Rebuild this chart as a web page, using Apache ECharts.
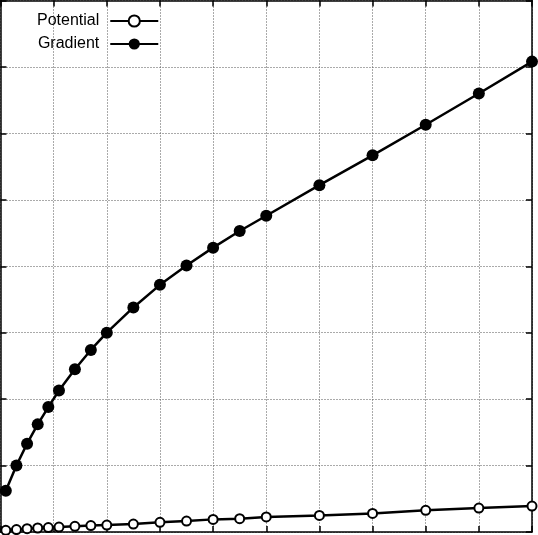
<!DOCTYPE html>
<html>
<head>
<meta charset="utf-8">
<script src="https://cdn.jsdelivr.net/npm/echarts@6/dist/echarts.min.js"></script>
<style>
    html, body { margin: 0; padding: 0; background: #fff; }
    #chart { width: 538px; height: 535px; }
</style>
</head>
<body>
<div id="chart"></div>
<script>
// 横坐标取值
var xValues = [0.1, 0.3, 0.5, 0.7, 0.9, 1.1, 1.4, 1.7, 2.0, 2.5, 3.0, 3.5, 4.0, 4.5, 5.0, 6, 7, 8, 9, 10]
// 两条曲线
var potential = [0.026, 0.036, 0.05, 0.06, 0.066, 0.075, 0.086, 0.096, 0.105, 0.12, 0.146, 0.165, 0.19, 0.2, 0.226, 0.25, 0.28, 0.326, 0.36, 0.39]
var gradient = [0.62, 1.00, 1.33, 1.62, 1.88, 2.13, 2.45, 2.74, 3.00, 3.38, 3.72, 4.01, 4.28, 4.53, 4.76, 5.22, 5.67, 6.13, 6.60, 7.08]
var seriesNames = ['Potential', 'Gradient']

function pairs(xs, ys) {
    let out = []
    for (let i = 0; i < xs.length; i++) {
        out.push([xs[i], ys[i]])
    }
    return out
}

// 坐标轴样式，四边都画刻度
function makeAxis(pos, max) {
    return {
        type: 'value',
        position: pos,
        min: 0,
        max: max,
        interval: 1,
        axisLine: { show: true, onZero: false, lineStyle: { color: '#000', width: 1.5 } },
        axisTick: { show: true, inside: true, length: 6, lineStyle: { color: '#000', width: 1.5 } },
        axisLabel: { show: false },
        splitLine: { show: pos == 'bottom' || pos == 'left', lineStyle: { color: '#555', width: 1, type: [1, 2] } }
    }
}

var myChart = echarts.init(document.getElementById('chart'))
myChart.setOption({
    animation: false,
    grid: { left: 0.5, right: 6, top: 0.5, bottom: 3, containLabel: false },
    legend: {
        data: seriesNames,
        orient: 'vertical',
        left: 32,
        top: 8,
        align: 'right',
        itemWidth: 48,
        itemHeight: 14,
        itemGap: 7,
        textStyle: { fontFamily: 'Liberation Sans', fontSize: 16, color: '#000', padding: [0, 6, 0, 0] }
    },
    xAxis: [makeAxis('bottom', 10), makeAxis('top', 10)],
    yAxis: [makeAxis('left', 8), makeAxis('right', 8)],
    series: [{
        name: seriesNames[0],
        type: 'line',
        data: pairs(xValues, potential),
        symbol: 'emptyCircle',
        symbolSize: 9,
        clip: false,
        lineStyle: { color: '#000', width: 2.5 },
        itemStyle: { color: '#000', borderColor: '#000', borderWidth: 2.2 }
    }, {
        name: seriesNames[1],
        type: 'line',
        data: pairs(xValues, gradient),
        symbol: 'circle',
        symbolSize: 12,
        clip: false,
        lineStyle: { color: '#000', width: 2.5 },
        itemStyle: { color: '#000' }
    }]
})
</script>
</body>
</html>
